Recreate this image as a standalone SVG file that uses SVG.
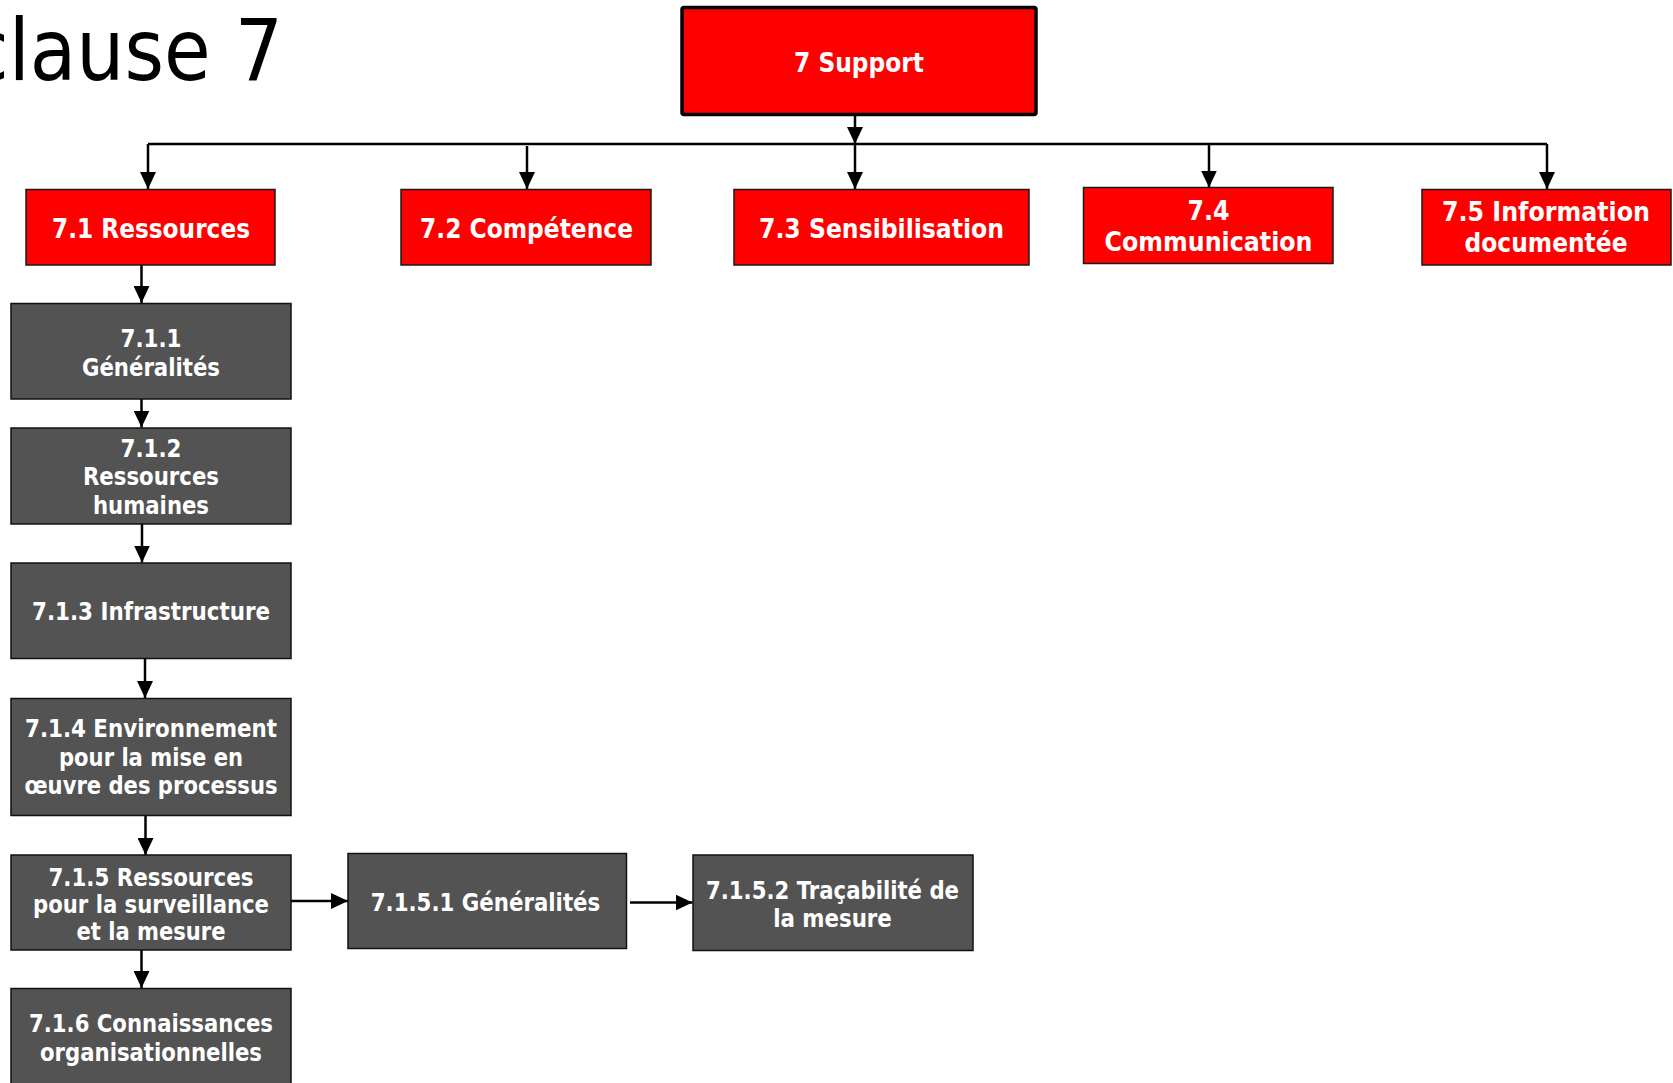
<svg xmlns="http://www.w3.org/2000/svg" width="1673" height="1083" viewBox="0 0 1673 1083">
  <defs>
    <marker id="arrow" markerUnits="userSpaceOnUse" markerWidth="17" markerHeight="16" refX="17" refY="8" orient="auto">
      <path d="M0,0 L17,8 L0,16 z" fill="#000"/>
    </marker>
    <style>
      .title { font-family: "DejaVu Sans", "Liberation Sans", sans-serif; font-size: 85px; fill: #000; }
      .red rect { fill: #ff0000; stroke: #1a1a1a; stroke-width: 1.5; }
      .grey rect { fill: #535353; stroke: #111; stroke-width: 1.5; }
      .lbl { font-family: "DejaVu Sans", "Liberation Sans", sans-serif; font-weight: bold; fill: #fff; text-anchor: middle; }
      .red .lbl { font-size: 26px; }
      .grey .lbl { font-size: 24px; }
      .conn line { stroke: #000; stroke-width: 2.5; fill: none; }
      .conn .arr { marker-end: url(#arrow); }
    </style>
  </defs>

  <rect width="1673" height="1083" fill="#fff"/>

  <text class="title" x="-33" y="80" textLength="316" lengthAdjust="spacingAndGlyphs">clause 7</text>

  <!-- connectors -->
  <g id="connectors" class="conn">
    <line class="arr" x1="855" y1="115" x2="855" y2="144"/>
    <line x1="148" y1="144" x2="1547" y2="144"/>
    <line class="arr" x1="148" y1="144" x2="148" y2="189"/>
    <line class="arr" x1="527" y1="146" x2="527" y2="189"/>
    <line class="arr" x1="855" y1="144" x2="855" y2="189"/>
    <line class="arr" x1="1209" y1="144" x2="1209" y2="187.5"/>
    <line class="arr" x1="1547" y1="144" x2="1547" y2="189"/>
    <line class="arr" x1="141.5" y1="265" x2="141.5" y2="303"/>
    <line class="arr" x1="141.5" y1="399" x2="141.5" y2="427.5"/>
    <line class="arr" x1="142" y1="524" x2="142" y2="562.5"/>
    <line class="arr" x1="145" y1="658" x2="145" y2="698"/>
    <line class="arr" x1="145.5" y1="816" x2="145.5" y2="855"/>
    <line class="arr" x1="141.5" y1="950" x2="141.5" y2="988"/>
    <line class="arr" x1="287" y1="901" x2="348" y2="901"/>
    <line class="arr" x1="630" y1="902.5" x2="692.5" y2="902.5"/>
  </g>

  <!-- top level -->
  <g id="n7" class="red">
    <rect x="682" y="7.5" width="354" height="107" rx="2" style="stroke:#000;stroke-width:3.5"/>
    <text class="lbl" x="859" y="72" style="font-size:27px" textLength="130" lengthAdjust="spacingAndGlyphs">7 Support</text>
  </g>

  <!-- clause 7 sections -->
  <g id="n71" class="red">
    <rect x="26" y="189.5" width="249" height="75.5"/>
    <text class="lbl" x="151" y="238" textLength="198" lengthAdjust="spacingAndGlyphs">7.1 Ressources</text>
  </g>
  <g id="n72" class="red">
    <rect x="401" y="189.5" width="250" height="75.5"/>
    <text class="lbl" x="526.5" y="238" textLength="213" lengthAdjust="spacingAndGlyphs">7.2 Compétence</text>
  </g>
  <g id="n73" class="red">
    <rect x="734" y="189.5" width="295" height="75.5"/>
    <text class="lbl" x="881.5" y="238" textLength="245" lengthAdjust="spacingAndGlyphs">7.3 Sensibilisation</text>
  </g>
  <g id="n74" class="red">
    <rect x="1083.5" y="187.5" width="249.5" height="76"/>
    <text class="lbl" x="1208.5" y="220" textLength="42" lengthAdjust="spacingAndGlyphs">7.4</text>
    <text class="lbl" x="1208.5" y="250.5" textLength="208" lengthAdjust="spacingAndGlyphs">Communication</text>
  </g>
  <g id="n75" class="red">
    <rect x="1422" y="189.5" width="249" height="75.5"/>
    <text class="lbl" x="1546" y="220.5" textLength="208" lengthAdjust="spacingAndGlyphs">7.5 Information</text>
    <text class="lbl" x="1546" y="251.5" textLength="163" lengthAdjust="spacingAndGlyphs">documentée</text>
  </g>

  <!-- 7.1 sub-clauses -->
  <g id="n711" class="grey">
    <rect x="11" y="303.5" width="280" height="95.5"/>
    <text class="lbl" x="151" y="346.5" textLength="61" lengthAdjust="spacingAndGlyphs">7.1.1</text>
    <text class="lbl" x="151" y="375.5" textLength="138" lengthAdjust="spacingAndGlyphs">Généralités</text>
  </g>
  <g id="n712" class="grey">
    <rect x="11" y="428" width="280" height="96"/>
    <text class="lbl" x="151" y="456.5" textLength="61" lengthAdjust="spacingAndGlyphs">7.1.2</text>
    <text class="lbl" x="151" y="485" textLength="136" lengthAdjust="spacingAndGlyphs">Ressources</text>
    <text class="lbl" x="151" y="513.5" textLength="116" lengthAdjust="spacingAndGlyphs">humaines</text>
  </g>
  <g id="n713" class="grey">
    <rect x="11" y="563" width="280" height="95.5"/>
    <text class="lbl" x="151" y="620" textLength="238" lengthAdjust="spacingAndGlyphs">7.1.3 Infrastructure</text>
  </g>
  <g id="n714" class="grey">
    <rect x="11" y="698.5" width="280" height="117"/>
    <text class="lbl" x="151" y="737" textLength="252" lengthAdjust="spacingAndGlyphs">7.1.4 Environnement</text>
    <text class="lbl" x="151" y="765.5" textLength="184" lengthAdjust="spacingAndGlyphs">pour la mise en</text>
    <text class="lbl" x="151" y="794" textLength="253" lengthAdjust="spacingAndGlyphs">œuvre des processus</text>
  </g>
  <g id="n715" class="grey">
    <rect x="11" y="855" width="280" height="95"/>
    <text class="lbl" x="151" y="886" textLength="205" lengthAdjust="spacingAndGlyphs">7.1.5 Ressources</text>
    <text class="lbl" x="151" y="913" textLength="236" lengthAdjust="spacingAndGlyphs">pour la surveillance</text>
    <text class="lbl" x="151" y="940" textLength="149" lengthAdjust="spacingAndGlyphs">et la mesure</text>
  </g>
  <g id="n716" class="grey">
    <rect x="11" y="988.5" width="280" height="100"/>
    <text class="lbl" x="151" y="1032" textLength="244" lengthAdjust="spacingAndGlyphs">7.1.6 Connaissances</text>
    <text class="lbl" x="151" y="1061" textLength="222" lengthAdjust="spacingAndGlyphs">organisationnelles</text>
  </g>

  <!-- 7.1.5 sub-clauses -->
  <g id="n7151" class="grey">
    <rect x="348" y="853.5" width="278.5" height="95"/>
    <text class="lbl" x="485.5" y="910.5" textLength="229.5" lengthAdjust="spacingAndGlyphs">7.1.5.1 Généralités</text>
  </g>
  <g id="n7152" class="grey">
    <rect x="693" y="855" width="280" height="95.5"/>
    <text class="lbl" x="832.5" y="898.5" textLength="253" lengthAdjust="spacingAndGlyphs">7.1.5.2 Traçabilité de</text>
    <text class="lbl" x="832.5" y="926.5" textLength="118.5" lengthAdjust="spacingAndGlyphs">la mesure</text>
  </g>
</svg>
